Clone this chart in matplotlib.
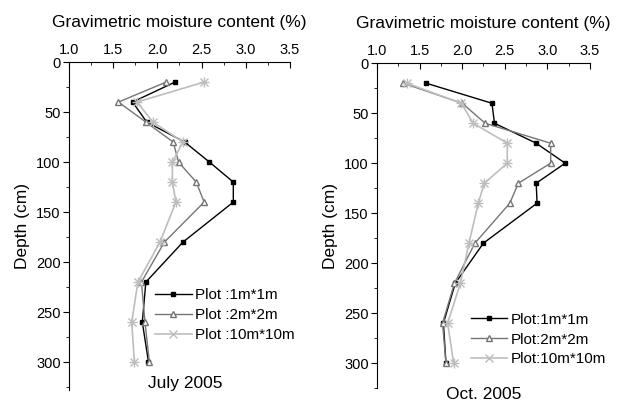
import matplotlib
matplotlib.use('Agg')
import matplotlib.pyplot as plt
from matplotlib.ticker import MultipleLocator

plt.rcParams['font.family'] = ['Liberation Sans', 'DejaVu Sans']

# Profondità di campionamento (cm)
depth = [20, 40, 60, 80, 100, 120, 140, 180, 220, 260, 300]

# Luglio 2005
july_1m = [2.20, 1.72, 1.88, 2.31, 2.59, 2.86, 2.86, 2.29, 1.87, 1.83, 1.90]
july_2m = [2.10, 1.56, 1.87, 2.18, 2.24, 2.44, 2.53, 2.08, 1.82, 1.86, 1.91]
july_10m = [2.53, 1.77, 1.95, 2.29, 2.17, 2.17, 2.21, 2.03, 1.78, 1.71, 1.74]

# Ottobre 2005
oct_1m = [1.58, 2.35, 2.38, 2.87, 3.21, 2.87, 2.88, 2.25, 1.92, 1.78, 1.81]
oct_2m = [1.31, 2.00, 2.27, 3.04, 3.04, 2.66, 2.56, 2.15, 1.91, 1.77, 1.81]
oct_10m = [1.35, 1.99, 2.13, 2.53, 2.53, 2.26, 2.19, 2.08, 1.98, 1.83, 1.90]

labels_july = ['Plot :1m*1m', 'Plot :2m*2m', 'Plot :10m*10m']
labels_oct = ['Plot:1m*1m', 'Plot:2m*2m', 'Plot:10m*10m']

styles = [
    dict(color='black', marker='s', markersize=3.5, mfc='black', lw=1.0),
    dict(color='#757575', marker='^', markersize=4.5, mfc='white', lw=1.0),
    dict(color='#bdbdbd', marker='x', markersize=6, lw=1.2),
]


def profile(ax, series, labels, ylim_max, caption, cap_xy, legend_xy):
    for vals, lab, st in zip(series, labels, styles):
        ax.plot(vals, depth, label=lab, **st)
        if st['marker'] == 'x':
            # aggiunge il '+' per ottenere l'asterisco
            ax.plot(vals, depth, color=st['color'], marker='+', markersize=6.5, lw=0)
    ax.set_xlim(1.0, 3.5)
    ax.set_ylim(ylim_max, 0)
    ax.xaxis.tick_top()
    ax.xaxis.set_label_position('top')
    ax.set_xlabel('Gravimetric moisture content (%)', fontsize=12.5, labelpad=11)
    ax.set_ylabel('Depth (cm)', fontsize=12.5, labelpad=4)
    ax.xaxis.set_major_locator(MultipleLocator(0.5))
    ax.xaxis.set_minor_locator(MultipleLocator(0.25))
    ax.yaxis.set_major_locator(MultipleLocator(50))
    ax.yaxis.set_minor_locator(MultipleLocator(25))
    ax.xaxis.set_major_formatter(plt.FormatStrFormatter('%.1f'))
    ax.tick_params(axis='x', which='both', direction='in', labelsize=10.5, pad=4)
    ax.tick_params(axis='x', which='major', length=4)
    ax.tick_params(axis='x', which='minor', length=2)
    ax.tick_params(axis='y', which='both', direction='out', labelsize=10.5, pad=2)
    ax.tick_params(axis='y', which='major', length=4)
    ax.tick_params(axis='y', which='minor', length=2)
    ax.spines['right'].set_visible(False)
    ax.spines['bottom'].set_visible(False)
    ax.text(cap_xy[0], cap_xy[1], caption, transform=ax.transAxes,
            ha='center', va='center', fontsize=12.5)
    ax.legend(loc='upper left', bbox_to_anchor=legend_xy, frameon=False,
              fontsize=11, borderpad=0, borderaxespad=0, handlelength=2.4,
              handletextpad=0.2, labelspacing=0.38)


fig = plt.figure(figsize=(6.17, 4.03), dpi=100)
ax1 = fig.add_axes([0.1118, 0.032, 0.358, 0.814])
ax2 = fig.add_axes([0.611, 0.037, 0.345, 0.806])

profile(ax1, [july_1m, july_2m, july_10m], labels_july, 328,
        'July 2005', (0.525, 0.02), (0.39, 0.31))
profile(ax2, [oct_1m, oct_2m, oct_10m], labels_oct, 325,
        'Oct. 2005', (0.50, -0.02), (0.44, 0.232))

fig.savefig('out.png', dpi=100)
